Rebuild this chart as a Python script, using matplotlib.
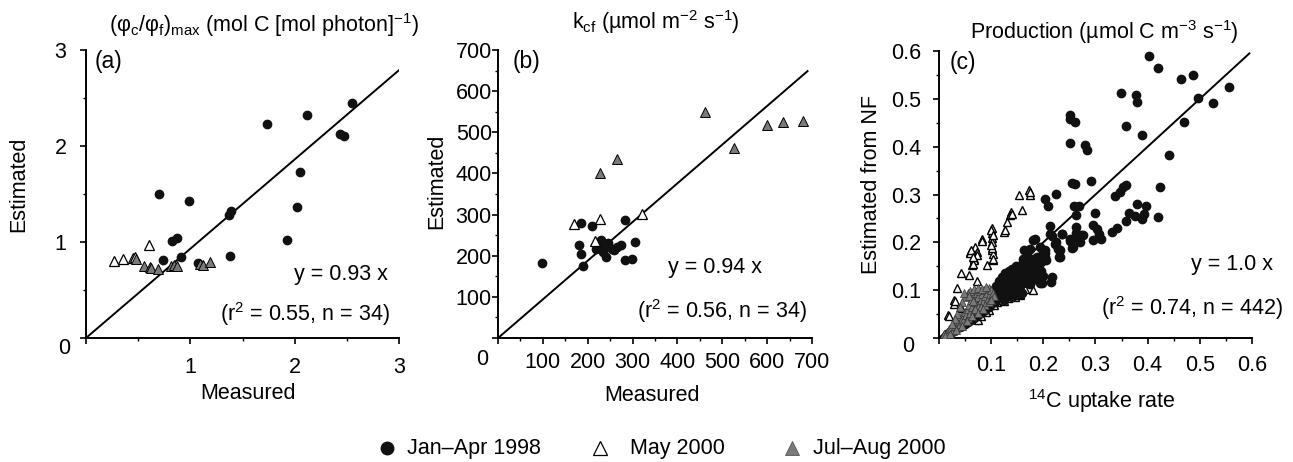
import numpy as np
import matplotlib
matplotlib.use("Agg")
import matplotlib.pyplot as plt
from matplotlib.ticker import MultipleLocator

plt.rcParams['font.family'] = ['Liberation Sans', 'DejaVu Sans']
plt.rcParams['mathtext.fontset'] = 'custom'
plt.rcParams['mathtext.rm'] = 'Liberation Sans'
plt.rcParams['mathtext.it'] = 'Liberation Sans:italic'
plt.rcParams['mathtext.default'] = 'regular'

# ---- panel (a): (phi_c/phi_f)max ----
a_dot_x = [0.70, 0.99, 0.82, 0.87, 0.74, 0.91, 1.07, 1.37, 1.39, 1.38, 1.73, 2.12, 2.05, 2.02, 1.93, 2.43, 2.47, 2.55]
a_dot_y = [1.50, 1.43, 1.01, 1.04, 0.81, 0.84, 0.78, 1.28, 1.32, 0.85, 2.23, 2.32, 1.73, 1.36, 1.02, 2.13, 2.10, 2.45]
a_open_x = [0.27, 0.35, 0.45, 0.47, 0.60]
a_open_y = [0.80, 0.82, 0.83, 0.84, 0.97]
a_gray_x = [0.48, 0.56, 0.61, 0.62, 0.69, 0.81, 0.84, 0.87, 1.09, 1.12, 1.19]
a_gray_y = [0.82, 0.75, 0.74, 0.73, 0.72, 0.75, 0.76, 0.75, 0.77, 0.76, 0.79]

# ---- panel (b): kcf ----
b_dot_x = [99, 184, 180, 186, 189, 210, 282, 223, 230, 233, 241, 227, 241, 253, 265, 275, 282, 298, 306, 234, 219, 245, 258]
b_dot_y = [183, 279, 225, 205, 175, 273, 288, 225, 238, 217, 223, 220, 197, 217, 220, 225, 189, 192, 233, 209, 217, 230, 215]
b_open_x = [169, 227, 322, 217]
b_open_y = [278, 290, 302, 236]
b_gray_x = [227, 266, 461, 525, 600, 635, 681]
b_gray_y = [401, 435, 550, 461, 517, 526, 528]

# ---- panel (c): production ----
c_dots = [
    (0.402, 0.590), (0.419, 0.565), (0.463, 0.542), (0.486, 0.549), (0.555, 0.524), (0.496, 0.502),
    (0.525, 0.492), (0.470, 0.451), (0.348, 0.512), (0.377, 0.509), (0.380, 0.493), (0.359, 0.444),
    (0.389, 0.425), (0.251, 0.467), (0.252, 0.458), (0.261, 0.451), (0.251, 0.408), (0.280, 0.403),
    (0.284, 0.394), (0.440, 0.383), (0.255, 0.324), (0.261, 0.322), (0.292, 0.328), (0.358, 0.320),
    (0.352, 0.316), (0.347, 0.305), (0.337, 0.297), (0.423, 0.316), (0.225, 0.301), (0.203, 0.290),
    (0.209, 0.276), (0.259, 0.277), (0.269, 0.276), (0.262, 0.258), (0.300, 0.262), (0.380, 0.281),
    (0.396, 0.277), (0.364, 0.261), (0.375, 0.255), (0.393, 0.259), (0.390, 0.249), (0.420, 0.253),
    (0.359, 0.244), (0.213, 0.234), (0.262, 0.232), (0.296, 0.237), (0.303, 0.228), (0.307, 0.218),
    (0.331, 0.221), (0.341, 0.229), (0.236, 0.217), (0.276, 0.215), (0.252, 0.206), (0.184, 0.206),
    (0.213, 0.218), (0.296, 0.205), (0.310, 0.206), (0.229, 0.187), (0.230, 0.170), (0.215, 0.118),
    (0.193, 0.114), (0.257, 0.191), (0.270, 0.201), (0.262, 0.219), (0.264, 0.210), (0.251, 0.203),
    (0.255, 0.189), (0.235, 0.217), (0.216, 0.213), (0.222, 0.196), (0.232, 0.185), (0.225, 0.201),
    (0.203, 0.184), (0.193, 0.191), (0.206, 0.163), (0.193, 0.156), (0.197, 0.114), (0.203, 0.177),
    (0.163, 0.184), (0.174, 0.187), (0.200, 0.180), (0.203, 0.170), (0.216, 0.128), (0.232, 0.170),
    (0.273, 0.215), (0.168, 0.180), (0.161, 0.166), (0.181, 0.205),
    (0.105, 0.100), (0.110, 0.108), (0.112, 0.095), (0.115, 0.120), (0.118, 0.105), (0.120, 0.128),
    (0.122, 0.112), (0.125, 0.098), (0.127, 0.135), (0.130, 0.118), (0.132, 0.105), (0.134, 0.140),
    (0.136, 0.125), (0.138, 0.112), (0.140, 0.145), (0.142, 0.130), (0.144, 0.118), (0.146, 0.100),
    (0.148, 0.150), (0.150, 0.136), (0.152, 0.122), (0.154, 0.108), (0.156, 0.142), (0.158, 0.128),
    (0.160, 0.155), (0.162, 0.115), (0.164, 0.138), (0.166, 0.148), (0.168, 0.124), (0.170, 0.160),
    (0.172, 0.132), (0.174, 0.112), (0.176, 0.145), (0.178, 0.165), (0.180, 0.128), (0.182, 0.150),
    (0.185, 0.138), (0.188, 0.170), (0.190, 0.122), (0.192, 0.155), (0.195, 0.140), (0.198, 0.160),
    (0.200, 0.130), (0.150, 0.090), (0.140, 0.085), (0.160, 0.095), (0.125, 0.080), (0.130, 0.090),
    (0.115, 0.085), (0.108, 0.075), (0.100, 0.072), (0.095, 0.065), (0.088, 0.058), (0.082, 0.055),
    (0.075, 0.048), (0.068, 0.042), (0.062, 0.038), (0.056, 0.033), (0.050, 0.030), (0.045, 0.026),
    (0.040, 0.022), (0.035, 0.020), (0.030, 0.016), (0.025, 0.012), (0.020, 0.010), (0.016, 0.008),
]
c_open = [
    (0.173, 0.309), (0.175, 0.300), (0.153, 0.298), (0.160, 0.267), (0.139, 0.264), (0.136, 0.257),
    (0.130, 0.243), (0.125, 0.222), (0.101, 0.229), (0.101, 0.219), (0.102, 0.210), (0.102, 0.201),
    (0.101, 0.184), (0.103, 0.175), (0.104, 0.163), (0.093, 0.152), (0.082, 0.206), (0.069, 0.191),
    (0.059, 0.180), (0.072, 0.180), (0.068, 0.166), (0.064, 0.152), (0.072, 0.173), (0.042, 0.136),
    (0.058, 0.131), (0.072, 0.119), (0.035, 0.105), (0.029, 0.079), (0.028, 0.071), (0.018, 0.048),
    (0.043, 0.062), (0.165, 0.103), (0.181, 0.101), (0.155, 0.089), (0.146, 0.086), (0.133, 0.083),
    (0.120, 0.083), (0.111, 0.076), (0.095, 0.058), (0.075, 0.037), (0.174, 0.305), (0.140, 0.260),
    (0.126, 0.225), (0.100, 0.226), (0.101, 0.188), (0.104, 0.166), (0.083, 0.203), (0.060, 0.177),
    (0.067, 0.163), (0.065, 0.155), (0.030, 0.077), (0.019, 0.046), (0.156, 0.091), (0.118, 0.080),
    (0.105, 0.070), (0.125, 0.078), (0.090, 0.055), (0.080, 0.045), (0.099, 0.195), (0.103, 0.215),
    (0.061, 0.185), (0.066, 0.170),
]
c_gray = [
    (0.010, 0.008), (0.015, 0.012), (0.018, 0.010), (0.020, 0.018), (0.024, 0.020), (0.027, 0.015),
    (0.030, 0.025), (0.032, 0.030), (0.035, 0.022), (0.038, 0.035), (0.040, 0.030), (0.042, 0.045),
    (0.045, 0.040), (0.047, 0.035), (0.050, 0.055), (0.052, 0.048), (0.055, 0.060), (0.055, 0.042),
    (0.058, 0.070), (0.060, 0.052), (0.062, 0.080), (0.063, 0.065), (0.065, 0.090), (0.067, 0.058),
    (0.070, 0.075), (0.072, 0.095), (0.074, 0.085), (0.076, 0.068), (0.078, 0.098), (0.080, 0.080),
    (0.082, 0.092), (0.085, 0.075), (0.087, 0.100), (0.089, 0.088), (0.092, 0.095), (0.094, 0.082),
    (0.096, 0.104), (0.098, 0.092), (0.100, 0.100), (0.103, 0.095), (0.105, 0.088), (0.050, 0.085),
    (0.055, 0.094), (0.060, 0.098), (0.045, 0.075), (0.048, 0.095), (0.040, 0.065), (0.035, 0.050),
    (0.030, 0.040), (0.025, 0.030), (0.068, 0.102), (0.075, 0.104), (0.083, 0.103), (0.090, 0.106),
    (0.058, 0.088), (0.065, 0.078), (0.070, 0.060), (0.080, 0.065), (0.088, 0.070), (0.095, 0.075),
    (0.100, 0.080), (0.012, 0.004), (0.022, 0.008), (0.033, 0.016), (0.044, 0.025), (0.054, 0.035),
    (0.064, 0.045), (0.074, 0.052), (0.085, 0.060),
]

slopes = [0.93, 0.94, 1.0]
fit_text = ['y = 0.93 x', 'y = 0.94 x', 'y = 1.0 x']
stat_text = ['(r$^2$ = 0.55, n = 34)', '(r$^2$ = 0.56, n = 34)', '(r$^2$ = 0.74, n = 442)']
titles = ['(φ$_c$/φ$_f$)$_{max}$ (mol C [mol photon]$^{-1}$)',
          'k$_{cf}$ (µmol m$^{-2}$ s$^{-1}$)',
          'Production (µmol C m$^{-3}$ s$^{-1}$)']
xlabels = ['Measured', 'Measured', '$^{14}$C uptake rate']
ylabels = ['Estimated', 'Estimated', 'Estimated from NF']
panel_tags = ['(a)', '(b)', '(c)']

FS = 15.5
GRAY = '#7a7a7a'

fig = plt.figure(figsize=(12.93, 4.62), dpi=100)
axa = fig.add_axes([0.0665, 0.2684, 0.2421, 0.6234])
axb = fig.add_axes([0.3852, 0.2684, 0.2428, 0.6234])
axc = fig.add_axes([0.7262, 0.2684, 0.2421, 0.6212])
axes = [axa, axb, axc]

ms_dot = 6.0
ms_tri = 6.5

axa.plot(a_dot_x, a_dot_y, 'o', ms=ms_dot, mfc='#111111', mec='#111111', ls='none', zorder=3)
axa.plot(a_open_x, a_open_y, '^', ms=ms_tri, mfc='white', mec='black', mew=0.9, ls='none', zorder=3)
axa.plot(a_gray_x, a_gray_y, '^', ms=ms_tri, mfc=GRAY, mec='black', mew=0.7, ls='none', zorder=3)

axb.plot(b_dot_x, b_dot_y, 'o', ms=ms_dot, mfc='#111111', mec='#111111', ls='none', zorder=3)
axb.plot(b_open_x, b_open_y, '^', ms=ms_tri, mfc='white', mec='black', mew=0.9, ls='none', zorder=3)
axb.plot(b_gray_x, b_gray_y, '^', ms=ms_tri, mfc=GRAY, mec='black', mew=0.7, ls='none', zorder=3)

cd = np.array(c_dots)
co = np.array(c_open)
cg = np.array(c_gray)
axc.plot(co[:, 0], co[:, 1], '^', ms=5.5, mfc='white', mec='black', mew=1.0, ls='none', zorder=3)
axc.plot(cd[:, 0], cd[:, 1], 'o', ms=ms_dot, mfc='#111111', mec='#111111', ls='none', zorder=4)
axc.plot(cg[:, 0], cg[:, 1], '^', ms=5.5, mfc=GRAY, mec='#333333', mew=0.5, ls='none', zorder=5)

limits = [3, 700, 0.6]
line_end = [3.0, 690, 0.595]
majors = [1, 100, 0.1]
minors = [0.5, 50, 0.05]
label_fmt = ['%d', '%d', '%.1f']
ylab_x = [-0.182, -0.162, -0.182]
ylab_y = [0.535, 0.545, 0.535]
xlab_x = [0.518, 0.49, 0.52]
xlab_y = [-0.156, -0.163, -0.17]
title_pos = [(0.569, 1.0625), (0.503, 1.073), (0.527, 1.042)]
tag_x = [0.029, 0.045, 0.035]
fit_pos = [(0.965, 0.201), (0.841, 0.226), (1.067, 0.237)]
stat_pos = [(0.971, 0.059), (0.984, 0.069), (1.099, 0.080)]
zero_pos = [(-0.07, -0.035), (-0.051, -0.073), (-0.099, -0.031)]
pads = [(9.4, 10.0), (5.8, 0.5), (8.0, 8.6)]

for i, ax in enumerate(axes):
    lim = limits[i]
    xs = np.array([0, line_end[i]])
    ax.plot(xs, slopes[i] * xs, color='black', lw=1.4, zorder=2)
    ax.set_xlim(0, lim)
    ax.set_ylim(0, lim)
    for s in ['top', 'right']:
        ax.spines[s].set_visible(False)
    for s in ['left', 'bottom']:
        ax.spines[s].set_linewidth(1.4)
    ticks = np.arange(0, lim + majors[i] / 2, majors[i])
    labels = [''] + [label_fmt[i] % t for t in ticks[1:]]
    ax.set_xticks(ticks, labels)
    ax.set_yticks(ticks, labels)
    ax.xaxis.set_minor_locator(MultipleLocator(minors[i]))
    ax.yaxis.set_minor_locator(MultipleLocator(minors[i]))
    ax.tick_params(which='major', direction='out', length=4, width=1.2, labelsize=FS)
    ax.tick_params(which='minor', direction='out', length=2.5, width=1.0)
    ax.tick_params(axis='x', which='major', pad=pads[i][0])
    ax.tick_params(axis='y', which='major', pad=pads[i][1])
    ax.set_xlabel(xlabels[i], fontsize=FS)
    ax.set_ylabel(ylabels[i], fontsize=FS)
    ax.xaxis.set_label_coords(xlab_x[i], xlab_y[i])
    ax.yaxis.set_label_coords(ylab_x[i], ylab_y[i])
    ax.text(title_pos[i][0], title_pos[i][1], titles[i], transform=ax.transAxes,
            ha='center', va='baseline', fontsize=FS)
    ax.text(tag_x[i], 1.0, panel_tags[i], transform=ax.transAxes,
            ha='left', va='top', fontsize=FS + 1)
    ax.text(fit_pos[i][0], fit_pos[i][1], fit_text[i], transform=ax.transAxes,
            ha='right', va='baseline', fontsize=FS)
    ax.text(stat_pos[i][0], stat_pos[i][1], stat_text[i], transform=ax.transAxes,
            ha='right', va='baseline', fontsize=FS)
    ax.text(zero_pos[i][0], zero_pos[i][1], '0', transform=ax.transAxes,
            ha='center', va='center', fontsize=FS)

# legend drawn by hand along the bottom
leg_y = 0.030
fig.lines.append(plt.Line2D([387 / 1293], [leg_y], marker='o', ms=9, mfc='#111111', mec='#111111',
                            ls='none', transform=fig.transFigure))
fig.lines.append(plt.Line2D([600 / 1293], [leg_y], marker='^', ms=10, mfc='white', mec='black',
                            mew=0.9, ls='none', transform=fig.transFigure))
fig.lines.append(plt.Line2D([792 / 1293], [leg_y], marker='^', ms=10, mfc=GRAY, mec='#555555',
                            mew=0.6, ls='none', transform=fig.transFigure))
fig.text(407 / 1293, leg_y, 'Jan–Apr 1998', ha='left', va='center', fontsize=FS)
fig.text(630 / 1293, leg_y, 'May 2000', ha='left', va='center', fontsize=FS)
fig.text(813 / 1293, leg_y, 'Jul–Aug 2000', ha='left', va='center', fontsize=FS)

fig.savefig('out.png', dpi=100)
